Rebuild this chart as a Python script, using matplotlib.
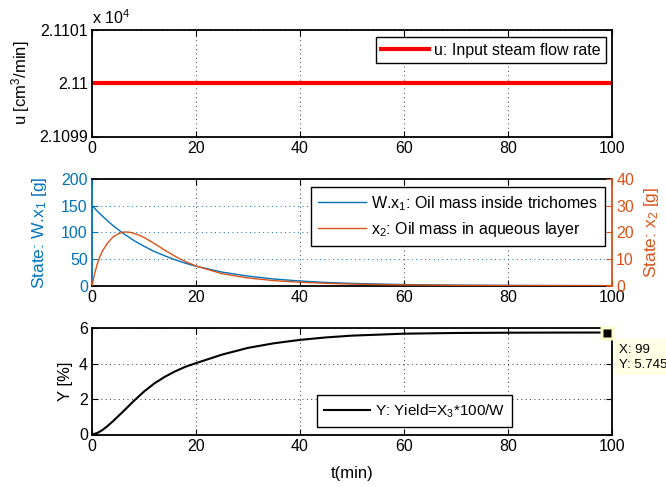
import matplotlib
matplotlib.use("Agg")
import matplotlib.pyplot as plt
from matplotlib.ticker import FuncFormatter

plt.rcParams['font.family'] = ['Liberation Sans', 'DejaVu Sans']
plt.rcParams['mathtext.fontset'] = 'custom'
plt.rcParams['mathtext.rm'] = 'Liberation Sans'
plt.rcParams['mathtext.it'] = 'Liberation Sans'

# Input steam flow rate
t_u = [0, 100]
u_flow = [21100, 21100]
u_ticks = [21099, 21100, 21101]

# States: oil mass in trichomes (left axis) and in aqueous layer (right axis)
t_state = [0, 0.5, 1, 1.5, 2, 3, 4, 5, 6, 7, 8, 9, 10, 12, 14, 16, 18, 20,
           25, 30, 35, 40, 45, 50, 60, 70, 80, 90, 100]
wx1 = [150, 145, 140, 135, 130.5, 121.5, 113, 105.5, 98, 91.5, 85, 79.5, 74,
       64, 56, 48.5, 42, 36.5, 25.5, 18, 12.5, 8.8, 6.1, 4.3, 2.1, 1.0, 0.5,
       0.25, 0.12]
x2 = [0, 4.5, 8, 10.8, 13, 16, 18.2, 19.4, 20.1, 20.1, 19.7, 19.0, 18.1, 15.8,
      13.3, 11.0, 9.0, 7.4, 4.5, 2.9, 1.9, 1.3, 0.9, 0.6, 0.3, 0.15, 0.07,
      0.04, 0.02]

# Yield
t_yield = [0, 1, 2, 3, 4, 5, 6, 8, 10, 12, 14, 16, 18, 20, 25, 30, 35, 40,
           45, 50, 60, 70, 80, 90, 99, 100]
yld = [0, 0.08, 0.25, 0.48, 0.74, 1.02, 1.3, 1.88, 2.42, 2.88, 3.25, 3.56,
       3.82, 4.02, 4.5, 4.88, 5.14, 5.33, 5.47, 5.57, 5.68, 5.72, 5.735,
       5.742, 5.745, 5.745]
tip_x, tip_y = 99, 5.745

x_ticks = [0, 20, 40, 60, 80, 100]

BLUE = '#0072bd'
ORANGE = '#d95319'
FS = 11.5
LFS = 11.5
GRID = dict(linestyle=(0, (1, 3.5)), linewidth=0.7)
LEG = dict(fontsize=LFS, handlelength=3.0, handletextpad=0.3,
           fancybox=False, framealpha=1, edgecolor='black', borderaxespad=0)

fig = plt.figure(figsize=(6.66, 4.87), dpi=100)
W, H = 666, 487


def box(l, t, r, b):
    return [l / W, 1 - b / H, (r - l) / W, (b - t) / H]


def style(ax, spine_color='black'):
    ax.set_xlim(0, 100)
    ax.set_xticks(x_ticks)
    ax.tick_params(direction='in', top=True, right=True, labelsize=FS,
                   length=4, width=0.8, pad=3)
    for s in ax.spines.values():
        s.set_linewidth(1.3)
        s.set_color(spine_color)
    ax.set_axisbelow(True)


# ---- Panel 1: input ----
ax1 = fig.add_axes(box(92, 29.5, 612, 136.5))
style(ax1)
ax1.plot(t_u, u_flow, color='red', lw=3, label='u: Input steam flow rate')
ax1.set_ylim(21099, 21101)
ax1.set_yticks(u_ticks)
ax1.yaxis.set_major_formatter(FuncFormatter(lambda v, p: f'{v / 1e4:g}'))
ax1.grid(True, color='#333333', **GRID)
ax1.set_ylabel('u [cm$^3$/min]', fontsize=FS + 0.5, labelpad=5)
ax1.text(0, 1.025, r'x 10$^4$', transform=ax1.transAxes, fontsize=FS,
         ha='left', va='bottom')
leg = ax1.legend(loc='upper right', bbox_to_anchor=(0.9885, 0.930),
                 borderpad=0.35, **LEG)
leg.get_frame().set_linewidth(1.0)

# ---- Panel 2: states ----
ax2 = fig.add_axes(box(92, 179, 612, 285.7))
style(ax2)
ax2.tick_params(axis='y', colors=BLUE, right=False)
ax2.tick_params(axis='x', colors='black')
ax2.spines['left'].set_color(BLUE)
ax2.spines['right'].set_visible(False)
l1, = ax2.plot(t_state, wx1, color=BLUE, lw=1.0,
               label='W.x$_1$: Oil mass inside trichomes')
ax2.set_ylim(0, 200)
ax2.set_yticks([0, 50, 100, 150, 200])
ax2.xaxis.grid(True, color='#333333', **GRID)
ax2.yaxis.grid(True, color=BLUE, **GRID)
ax2.set_ylabel('State: W.x$_1$ [g]', fontsize=FS + 1, color=BLUE,
               labelpad=9)

ax2r = ax2.twinx()
ax2r.set_xlim(0, 100)
l2, = ax2r.plot(t_state, x2, color=ORANGE, lw=1.0,
                label='x$_2$: Oil mass in aqueous layer')
ax2r.set_ylim(0, 40)
ax2r.set_yticks([0, 10, 20, 30, 40])
ax2r.tick_params(axis='y', colors=ORANGE, direction='in', labelsize=FS,
                 length=4, width=0.8, pad=3)
for s in ax2r.spines.values():
    s.set_visible(False)
ax2r.spines['right'].set_visible(True)
ax2r.spines['right'].set_color(ORANGE)
ax2r.spines['right'].set_linewidth(1.3)
ax2r.set_ylabel('State: x$_2$ [g]', fontsize=FS + 1, color=ORANGE,
                labelpad=6)
leg2 = ax2r.legend(handles=[l1, l2], loc='upper right',
                   bbox_to_anchor=(0.9865, 0.928), borderpad=0.45,
                   labelspacing=0.45, **LEG)
leg2.get_frame().set_linewidth(1.0)

# ---- Panel 3: yield ----
ax3 = fig.add_axes(box(92, 328, 612, 434.5))
style(ax3)
ax3.plot(t_yield, yld, color='black', lw=1.5,
         label='Y: Yield=X$_3$*100/W')
ax3.set_ylim(0, 6)
ax3.set_yticks([0, 2, 4, 6])
ax3.grid(True, color='#333333', **GRID)
ax3.set_ylabel('Y [%]', fontsize=FS + 0.5, labelpad=4)
ax3.set_xlabel('t(min)', fontsize=FS + 0.5, labelpad=9)
leg3 = ax3.legend(loc='lower left', bbox_to_anchor=(0.4321, 0.068),
                  borderpad=0.5, **{**LEG, 'fontsize': 11})
leg3.get_frame().set_linewidth(1.0)

# data tip
ax3.plot([tip_x], [tip_y], marker='s', ms=9.5, color='#ffffcc', mec='none',
         clip_on=False, zorder=5)
ax3.plot([tip_x], [tip_y], marker='s', ms=6, color='black', mec='none',
         clip_on=False, zorder=6)
ax3.annotate(f'X: {tip_x}\nY: {tip_y}', xy=(tip_x, tip_y),
             xytext=(619, H - 344), textcoords='figure pixels',
             fontsize=9.5, ha='left', va='top', linespacing=1.3,
             annotation_clip=False, zorder=7,
             bbox=dict(boxstyle='square,pad=0.35', fc='#ffffe6', ec='none'))

fig.savefig('out.png', dpi=100)
